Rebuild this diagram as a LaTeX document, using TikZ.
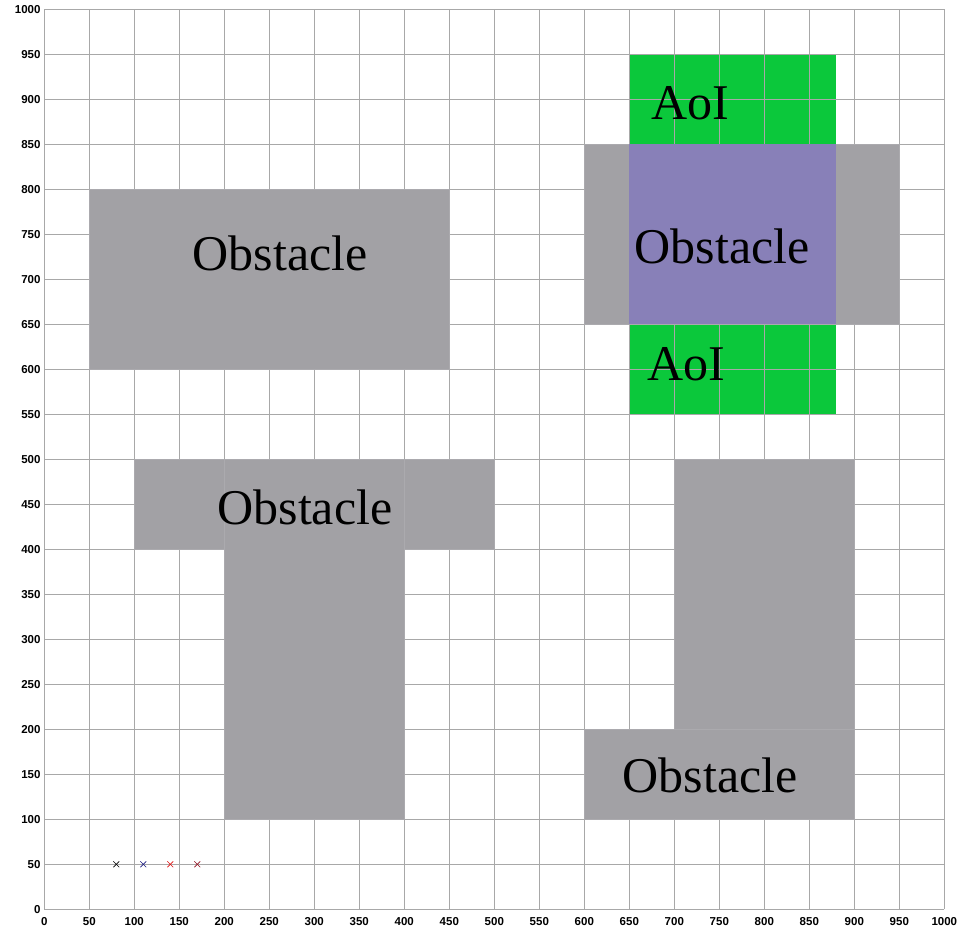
\documentclass[tikz,border=0pt]{standalone}
\usepackage{fontspec}
\setmainfont{Liberation Serif}
\newfontfamily\axisfont{Liberation Sans}
\definecolor{obsgray}{HTML}{A2A1A5}
\definecolor{obsedge}{HTML}{ABAAAE}
\definecolor{gridgray}{HTML}{A8A8A8}
\definecolor{aoigreen}{HTML}{0BC83B}
\definecolor{purp}{HTML}{8880B8}
\definecolor{mknavy}{HTML}{1A1A80}
\definecolor{mkred}{HTML}{E01010}
\definecolor{mkdred}{HTML}{901020}
\tikzset{
  obs/.style={fill=obsgray, draw=obsedge, line width=0.6pt},
  aoi/.style={fill=aoigreen},
  gridline/.style={draw=gridgray, line width=0.9pt},
  bigtext/.style={font=\fontsize{50}{52}\selectfont, text=black, inner sep=0pt},
  ticklab/.style={font=\axisfont\bfseries\fontsize{11.5}{13}\selectfont, text=black, inner sep=0pt},
  mark x/.style={line width=0.6pt}
}
\begin{document}
\begin{tikzpicture}[x=0.9pt,y=0.9pt]
\useasboundingbox[fill=white] (-49.2,-26.3) rectangle (1016.3,1010.3);
% AoI regions (under grid)
\fill[aoi] (650,850) rectangle (880,950);
\fill[aoi] (650,550) rectangle (880,650);
% grid
\foreach \v in {0,50,...,1000} {
  \draw[gridline] (\v,0) -- (\v,1000);
  \draw[gridline] (0,\v) -- (1000,\v);
}
% obstacles
\path[obs] (50,600) rectangle (450,800);
\path[obs] (100,400) rectangle (500,500);
\path[obs] (200,100) rectangle (400,500);
\path[obs] (700,200) rectangle (900,500);
\path[obs] (600,100) rectangle (900,200);
\path[obs] (600,650) rectangle (950,850);
\fill[purp] (650,650) rectangle (880,850);
% labels
\node[bigtext] (o1) at (262,729) {Obstacle};
\node[bigtext] (o2) at (289.6,446) {Obstacle};
\node[bigtext] (o3) at (753,736) {Obstacle};
\node[bigtext] (o4) at (740,149) {Obstacle};
\node[bigtext] (a1) at (717.5,896) {AoI};
\node[bigtext] (a2) at (713.6,606) {AoI};
% tick labels
\foreach \v in {0,50,...,1000} {
  \node[ticklab, anchor=east] (yl\v) at (-4,\v) {\v};
  \node[ticklab] (xl\v) at (\v,-13.5) {\v};
}
% markers
\foreach \mx/\mc in {80/black,110/mknavy,140/mkred,170/mkdred} {
  \draw[mark x, \mc] (\mx-3.3,46.7) -- (\mx+3.3,53.3);
  \draw[mark x, \mc] (\mx-3.3,53.3) -- (\mx+3.3,46.7);
}
\end{tikzpicture}
\end{document}
